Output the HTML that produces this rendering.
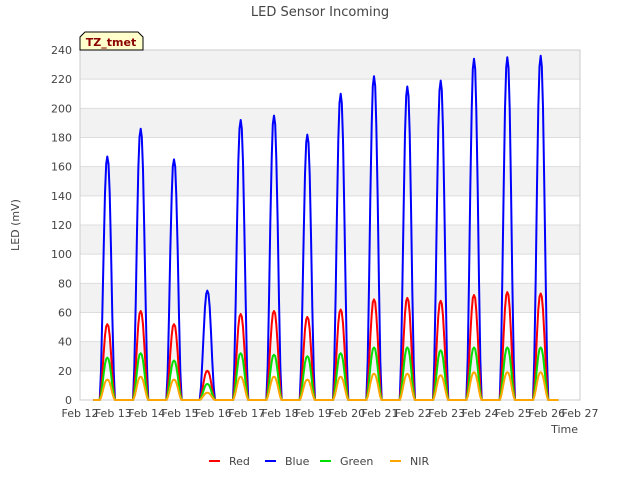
<!DOCTYPE html>
<html><head><meta charset="utf-8"><style>
body{margin:0;background:#fff;font-family:"Liberation Sans","DejaVu Sans",sans-serif;}
svg text{font-family:"DejaVu Sans","Liberation Sans",sans-serif;}
</style></head><body>
<svg id="chart" width="640" height="480" viewBox="0 0 640 480" xmlns="http://www.w3.org/2000/svg">
<text x="320" y="16" text-anchor="middle" font-size="13" fill="#444">LED Sensor Incoming</text>
<g id="bands"></g>
<g id="grid"></g>
<rect x="80" y="50" width="500" height="350" fill="none" stroke="#ccc"/>
<g id="series"></g>
<g id="yticks"></g>
<g id="xticks"></g>
<text x="19" y="225" transform="rotate(-90 19 225)" text-anchor="middle" font-size="11" fill="#444">LED (mV)</text>
<text x="578" y="433" text-anchor="end" font-size="11" fill="#444">Time</text>
<g>
<path d="M80,50 L80,37 L85,32 L138,32 L143,37 L143,50 Z" fill="#ffffcc" stroke="#000"/>
<text x="111" y="46" text-anchor="middle" font-size="11" font-weight="bold" fill="#8b0000">TZ_tmet</text>
</g>
<g id="legend"></g>
</svg>
<script>
const days = [0,1,2,3,4,5,6,7,8,9,10,11,12,13];
const xTickLabels = ["Feb 12","Feb 13","Feb 14","Feb 15","Feb 16","Feb 17","Feb 18","Feb 19","Feb 20","Feb 21","Feb 22","Feb 23","Feb 24","Feb 25","Feb 26","Feb 27"];
const yTicks = [0,20,40,60,80,100,120,140,160,180,200,220,240];
const bluePeaks = [167,186,165,75,192,195,182,210,222,215,219,234,235,236];
const redPeaks = [52,61,52,20,59,61,57,62,69,70,68,72,74,73];
const greenPeaks = [29,32,27,11,32,31,30,32,36,36,34,36,36,36];
const nirPeaks = [14,16,14,5,16,16,14,16,18,18,17,19,19,19];
const profileOffsets = [-0.23,-0.19,-0.15,-0.11,-0.07,-0.035,0,0.035,0.07,0.11,0.15,0.19,0.23];
const profileShape = [0,0.12,0.35,0.62,0.85,0.97,1,0.97,0.85,0.62,0.35,0.12,0];
const peakOffset = 0.82;
const startDay = 0.4, endDay = 14.35;

const NS="http://www.w3.org/2000/svg";
const X0=80,X1=580,Y0=400,Y1=50;
const xs=d=>X0+(d/15)*(X1-X0);
const ys=v=>Y0-(v/240)*(Y0-Y1);
function mk(tag,attrs,parent){const e=document.createElementNS(NS,tag);for(const k in attrs)e.setAttribute(k,attrs[k]);parent.appendChild(e);return e;}

const bands=document.getElementById('bands');
for(let i=0;i<yTicks.length-1;i++){
  if(i%2===1){
    const r=mk('rect',{x:X0,y:ys(yTicks[i+1]),width:X1-X0,height:ys(yTicks[i])-ys(yTicks[i+1]),fill:'#f2f2f2'},bands);
    
    
  }
}
const grid=document.getElementById('grid'),yt=document.getElementById('yticks');
yTicks.forEach(v=>{
  const l=mk('line',{x1:X0,x2:X1,y1:ys(v),y2:ys(v),stroke:'#ddd'},grid);
  
  
  const t=mk('text',{x:72,y:ys(v)+4,'text-anchor':'end','font-size':11,fill:'#444'},yt);
  t.textContent=v;
  
  
});
const xt=document.getElementById('xticks');
xTickLabels.forEach((lab,i)=>{
  const t=mk('text',{x:xs(i),y:417,'text-anchor':'middle','font-size':11,fill:'#444'},xt);
  t.textContent=lab;
  
  
});

function buildPath(peaks){
  let pts=[[xs(startDay),ys(0)]];
  days.forEach((d,i)=>{
    profileOffsets.forEach((o,j)=>{pts.push([xs(d+peakOffset+o),ys(peaks[i]*profileShape[j])]);});
  });
  pts.push([xs(endDay),ys(0)]);
  return 'M'+pts.map(p=>p[0].toFixed(1)+','+p[1].toFixed(1)).join(' L');
}
const seriesG=document.getElementById('series');
const defs=[['blue-series',bluePeaks,'#0000ff'],['red-series',redPeaks,'#ff0000'],['green-series',greenPeaks,'#00dd00'],['nir-series',nirPeaks,'#ffa500']];
defs.forEach(s=>{
  const p=mk('path',{d:buildPath(s[1]),fill:'none',stroke:s[2],'stroke-width':2,'stroke-linejoin':'round'},seriesG);
  
  
});
const legend=document.getElementById('legend');
const legItems=[['Red','#ff0000',209],['Blue','#0000ff',265],['Green','#00dd00',320],['NIR','#ffa500',390]];
legItems.forEach(it=>{
  const g=mk('g',{},legend);
  
  
  mk('line',{x1:it[2],x2:it[2]+11,y1:461,y2:461,stroke:it[1],'stroke-width':2},g);
  const t=mk('text',{x:it[2]+20,y:465,'font-size':11,fill:'#444'},g);
  t.textContent=it[0];
});
</script>
</body></html>
